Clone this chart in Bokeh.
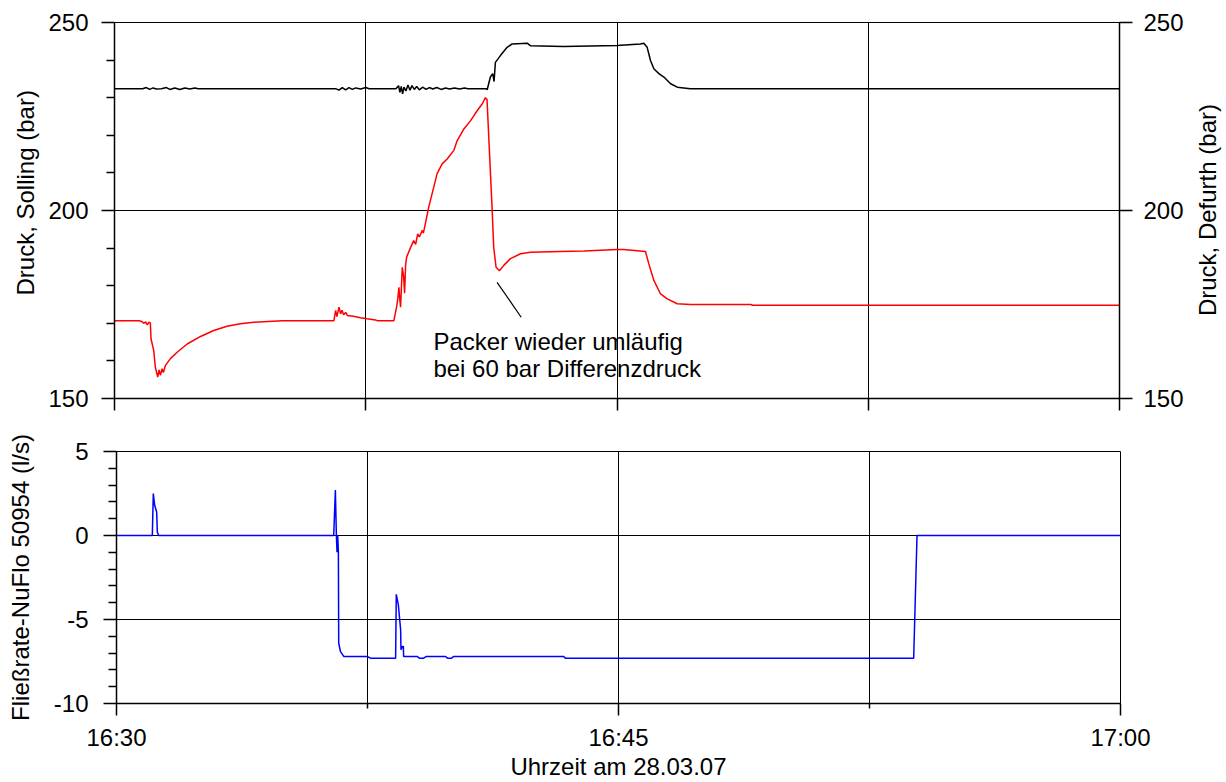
from bokeh.plotting import figure
from bokeh.models import Range1d, LinearAxis, FixedTicker, Label, Title
from bokeh.layouts import column, row
from bokeh.embed import file_html
from bokeh.resources import INLINE

FONT = "Liberation Sans"

# ---------------- data (time in minutes after 16:30) ----------------
red_t = [0, 0.73, 0.81, 0.87, 0.93, 0.98, 1.03, 1.07, 1.09, 1.17, 1.22, 1.29, 1.33, 1.37,
         1.42, 1.46, 1.52, 1.67, 1.87, 2.17, 2.57, 2.96, 3.36, 3.76, 4.16, 5.01, 6.55,
         6.60, 6.64, 6.70, 6.75, 6.79, 6.84, 6.90, 6.95, 7.13, 7.34, 7.54, 7.79, 7.84,
         8.34, 8.42, 8.45, 8.49, 8.51, 8.54, 8.59, 8.63, 8.66, 8.69, 8.72, 8.84, 8.93,
         8.99, 9.05, 9.10, 9.19, 9.22, 9.28, 9.38, 9.53, 9.63, 9.78, 9.93, 10.13, 10.23,
         10.43, 10.63, 10.83, 10.98, 11.07, 11.12, 11.20, 11.27, 11.32, 11.39, 11.49,
         11.62, 11.82, 12.12, 12.42, 13.31, 14.01, 15.01, 15.20, 15.85, 15.95, 16.10,
         16.30, 16.50, 16.80, 17.19, 18.99, 19.05, 30.0]
red_p = [170.7, 170.7, 170.5, 170.0, 170.4, 169.6, 170.3, 170.1, 165.9, 162.8, 158.3, 155.7,
         157.6, 156.2, 157.9, 156.9, 158.8, 160.6, 162.3, 164.5, 166.5, 168.1, 169.2, 169.9,
         170.3, 170.7, 170.7, 173.4, 171.8, 174.3, 172.5, 173.5, 172.3, 172.9, 172.1, 171.9,
         171.5, 171.2, 170.9, 170.7, 170.7, 174.3, 176.0, 179.6, 177.0, 174.3, 184.9, 182.5,
         178.0, 185.5, 187.6, 190.2, 192.0, 191.0, 193.8, 193.0, 194.7, 194.0, 196.5, 200.9,
         206.2, 209.8, 212.4, 213.7, 216.0, 218.6, 221.7, 223.9, 226.6, 228.4, 230.0, 229.5,
         214.2, 200.9, 190.2, 184.9, 184.0, 185.4, 187.2, 188.5, 188.9, 189.1, 189.2, 189.6,
         189.6, 189.1, 185.8, 181.4, 177.8, 176.5, 175.2, 175.0, 175.0, 174.8, 174.8]

black_t = [0, 0.84, 0.95, 1.05, 1.15, 1.25, 1.40, 1.55, 1.65, 1.80, 1.95, 2.10, 2.25, 2.40,
           2.50, 6.60, 6.70, 6.80, 6.90, 7.00, 7.10, 7.20, 7.35, 7.50, 7.60, 8.40, 8.48,
           8.52, 8.56, 8.60, 8.64, 8.70, 8.76, 8.82, 8.88, 8.95, 9.02, 9.10, 9.20, 9.30,
           9.40, 9.50, 9.62, 9.75, 9.88, 10.00, 10.15, 10.30, 10.45, 10.55, 11.10, 11.125,
           11.22, 11.29, 11.33, 11.37, 11.52, 11.72, 11.87, 12.32, 12.42, 13.40, 15.00,
           15.70, 15.80, 15.90, 16.00, 16.10, 16.25, 16.40, 16.60, 16.80, 17.19, 30.0]
black_p = [232.4, 232.4, 232.7, 232.2, 232.6, 232.3, 232.4, 232.7, 232.2, 232.6, 232.2, 232.6,
           232.3, 232.6, 232.4, 232.4, 232.0, 232.7, 232.1, 232.7, 232.2, 232.6, 232.3, 232.7,
           232.4, 232.4, 233.2, 231.4, 233.0, 231.0, 232.8, 231.8, 233.4, 232.0, 233.2, 232.2,
           233.0, 232.1, 232.8, 232.2, 232.7, 232.3, 232.7, 232.2, 232.6, 232.3, 232.6, 232.3,
           232.6, 232.4, 232.4, 232.1, 235.5, 236.4, 234.3, 239.4, 241.2, 243.4, 244.3, 244.5,
           243.8, 243.6, 243.9, 244.3, 244.5, 243.4, 239.9, 237.7, 236.4, 235.5, 233.7, 232.8,
           232.4, 232.4]

flow_t = [0, 1.07, 1.10, 1.14, 1.20, 1.22, 1.26, 6.49, 6.54, 6.57, 6.59, 6.61, 6.63, 6.64,
          6.69, 6.79, 7.49, 7.59, 8.34, 8.36, 8.42, 8.49, 8.50, 8.54, 8.57, 8.58, 8.98,
          9.05, 9.18, 9.26, 9.83, 9.89, 10.01, 10.08, 13.36, 13.41, 23.82, 23.92, 30.0]
flow_q = [0, 0, 2.5, 1.8, 1.4, 0.2, 0, 0, 2.7, 0, -1.0, 0, -1.0, -6.4, -6.9, -7.2, -7.2,
          -7.3, -7.3, -3.5, -4.1, -5.6, -6.8, -6.6, -6.6, -7.2, -7.2, -7.3, -7.3, -7.2,
          -7.2, -7.3, -7.3, -7.2, -7.2, -7.3, -7.3, 0, 0]

annot_line_t = [11.42, 12.14]
annot_line_p = [180.9, 171.6]
annot_text = ["Packer wieder umläufig", "bei 60 bar Differenzdruck"]
annot_text_t = [9.52, 9.52]
annot_text_p = [165.2, 157.9]

p_ticks = [150, 200, 250]
p_minor = [160, 170, 180, 190, 210, 220, 230, 240]
p_grid = [200]
q_ticks = [-10, -5, 0, 5]
q_tick_labels = ["-10", "-5", "0", "5"]
q_minor = [-9, -8, -7, -6, -4, -3, -2, -1, 1, 2, 3, 4]
q_grid = [-5, 0]
x_all_ticks = [0, 7.5, 15, 22.5, 30]
x_label_ticks = [0, 15, 30]
x_label_text = ["16:30", "16:45", "17:00"]
x_half_ticks = [7.5, 22.5]
x_grid = [7.5, 15, 22.5]


def style_axis(ax, tick_out, minor_out, standoff):
    ax.axis_line_color = "black"
    ax.axis_line_width = 1.5
    ax.major_tick_line_color = "black"
    ax.major_tick_line_width = 1.5
    ax.minor_tick_line_color = "black"
    ax.minor_tick_line_width = 1.5
    ax.major_tick_out = tick_out
    ax.major_tick_in = 0
    ax.minor_tick_out = minor_out
    ax.minor_tick_in = 0
    ax.major_label_text_font = FONT
    ax.major_label_text_font_size = "24px"
    ax.major_label_text_color = "black"
    ax.major_label_standoff = standoff
    ax.axis_label_text_font = FONT
    ax.axis_label_text_font_size = "24px"
    ax.axis_label_text_font_style = "normal"
    ax.axis_label_text_color = "black"


# ---------------- top panel: pressures ----------------
top = figure(width=1191, height=423, x_range=Range1d(0, 30), y_range=Range1d(150, 250),
             output_backend="svg", toolbar_location=None,
             min_border_left=114, min_border_right=72, min_border_top=22, min_border_bottom=25)
top.outline_line_color = "black"
top.outline_line_width = 1
top.background_fill_color = "white"
top.border_fill_color = "white"
top.extra_y_ranges = {"defurth": Range1d(150, 250)}

top.yaxis.ticker = FixedTicker(ticks=p_ticks, minor_ticks=p_minor)
style_axis(top.yaxis[0], 13, 8, 13)
top.xaxis.ticker = FixedTicker(ticks=[], minor_ticks=x_all_ticks)
style_axis(top.xaxis[0], 12, 12, 0)

ax_r = LinearAxis(y_range_name="defurth", ticker=FixedTicker(ticks=p_ticks))
style_axis(ax_r, 13, 0, 11)
top.add_layout(ax_r, "right")

top.add_layout(Title(text="Druck, Solling (bar)", align="left", offset=103,
                     vertical_align="middle", standoff=12, text_font=FONT,
                     text_font_size="24px", text_font_style="normal",
                     text_color="black"), "left")

top.xgrid.ticker = FixedTicker(ticks=x_grid)
top.ygrid.ticker = FixedTicker(ticks=p_grid)
for g in (top.xgrid[0], top.ygrid[0]):
    g.grid_line_color = "black"
    g.grid_line_width = 1

top.line(red_t, red_p, line_color="#ff0000", line_width=1.5)
top.line(black_t, black_p, line_color="black", line_width=1.5, y_range_name="defurth")
top.line(annot_line_t, annot_line_p, line_color="black", line_width=1.2)
for tx, ty, txt in zip(annot_text_t, annot_text_p, annot_text):
    top.add_layout(Label(x=tx, y=ty, text=txt, text_font=FONT, text_font_size="24px",
                         text_align="left", text_baseline="alphabetic", text_color="black"))

# ---------------- strip holding the right-hand axis title ----------------
side = figure(width=33, height=423, x_range=Range1d(0, 33), y_range=Range1d(0, 423),
              output_backend="svg", toolbar_location=None, min_border=0,
              x_axis_type=None, y_axis_type=None)
side.outline_line_color = None
side.background_fill_color = "white"
side.border_fill_color = "white"
side.add_layout(Label(x=16, y=212, text="Druck, Defurth (bar)", angle=90, angle_units="deg",
                      text_align="center", text_baseline="middle", text_font=FONT,
                      text_font_size="24px", text_color="black"))

# ---------------- bottom panel: flow rate ----------------
bot = figure(width=1224, height=359, x_range=Range1d(0, 30), y_range=Range1d(-10, 5),
             output_backend="svg", toolbar_location=None,
             min_border_left=116, min_border_right=104, min_border_top=28, min_border_bottom=79)
bot.outline_line_color = "black"
bot.outline_line_width = 1
bot.background_fill_color = "white"
bot.border_fill_color = "white"

bot.yaxis.ticker = FixedTicker(ticks=q_ticks, minor_ticks=q_minor)
style_axis(bot.yaxis[0], 13, 8, 15)
bot.yaxis.major_label_overrides = dict(zip(q_ticks, q_tick_labels))
bot.yaxis.axis_label = "Fließrate-NuFlo 50954 (l/s)"
bot.yaxis.axis_label_standoff = 17
bot.xaxis.ticker = FixedTicker(ticks=x_label_ticks, minor_ticks=x_half_ticks)
style_axis(bot.xaxis[0], 12, 5, 8)
bot.xaxis.major_label_overrides = dict(zip(x_label_ticks, x_label_text))
bot.xaxis.axis_label = "Uhrzeit am 28.03.07"
bot.xaxis.axis_label_standoff = -1

bot.xgrid.ticker = FixedTicker(ticks=x_grid)
bot.ygrid.ticker = FixedTicker(ticks=q_grid)
for g in (bot.xgrid[0], bot.ygrid[0]):
    g.grid_line_color = "black"
    g.grid_line_width = 1

bot.line(flow_t, flow_q, line_color="#0000ff", line_width=1.5)

layout = column(row(top, side), bot)
open("out.html", "w").write(file_html(layout, INLINE))
